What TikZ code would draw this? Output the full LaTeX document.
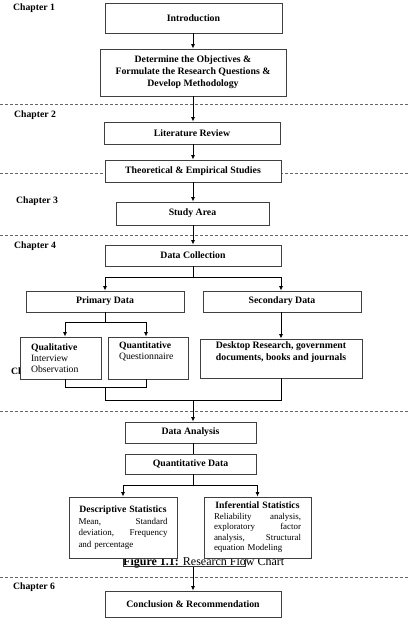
\documentclass[tikz,border=0pt]{standalone}
\usepackage{fontspec}
\setmainfont{Liberation Serif}
\usetikzlibrary{arrows.meta}
\begin{document}
\begin{tikzpicture}[x=1pt,y=-1pt,
  box/.style={draw=black!75,line width=0.9pt,fill=white,inner sep=0pt,align=center,
    font=\bfseries\fontsize{9.8}{12}\selectfont},
  tbox/.style={draw=black!75,line width=0.9pt,fill=white,inner sep=0pt},
  chap/.style={anchor=west,inner sep=0pt,font=\bfseries\fontsize{9.7}{12}\selectfont},
  conn/.style={draw=black,line width=0.8pt},
  arr/.style={conn,-{Latex[length=4.5pt,width=4pt]}},
  sep/.style={draw=black!60,line width=0.6pt,dash pattern=on 3pt off 2pt}]
\useasboundingbox (0,0) rectangle (408,634);

% chapter separators
\draw[sep] (0,104.5) -- (408,104.5);
\draw[sep] (0,173) -- (408,173);
\draw[sep] (0,235) -- (408,235);
\draw[sep] (0,411) -- (408,411);
\draw[sep] (0,577) -- (408,577);

% chapter labels
\node[chap] (c1) at (13,8.5) {Chapter 1};
\node[chap] (c2) at (14,115.5) {Chapter 2};
\node[chap] (c3) at (16,201) {Chapter 3};
\node[chap] (c4) at (14,246) {Chapter 4};
\node[chap] (c5) at (11,372) {Chapter 5};
\node[chap] (c6) at (13,587.5) {Chapter 6};

% caption (partly covered)
\node[anchor=base west,inner sep=0pt,font=\fontsize{12}{14}\selectfont] (cap) at (123,565.5)
  {\textbf{Figure 1.1:} Research Flow Chart};
\draw[black!80,line width=0.6pt] (123,556) -- (123,566.5) -- (245,566.5) -- (245,556);
\coordinate (capb) at (193,566.5);

% boxes
\node[box,minimum width=177pt,minimum height=30pt] (intro) at (193.5,18) {Introduction};
\node[box,minimum width=186pt,minimum height=47pt] (obj) at (193,72.5)
  {Determine the Objectives \&\\Formulate the Research Questions \&\\Develop Methodology};
\node[box,minimum width=176pt,minimum height=22pt] (lit) at (192,133) {Literature Review};
\node[box,minimum width=176pt,minimum height=22pt] (theo) at (193,171) {Theoretical \& Empirical Studies};
\node[box,minimum width=153pt,minimum height=23pt] (study) at (192.5,213.5) {Study Area};
\node[box,minimum width=176pt,minimum height=21pt] (dcol) at (193,255.5) {Data Collection};
\node[box,minimum width=158pt,minimum height=21pt] (prim) at (105,301.5) {Primary Data};
\node[box,minimum width=158pt,minimum height=21pt] (sec) at (282,301.5) {Secondary Data};
\node[tbox,minimum width=81pt,minimum height=42pt,text width=59pt,align=left,
  font=\fontsize{9.7}{11}\selectfont] (qual) at (60.5,358)
  {{\bfseries Qualitative}\\Interview\\Observation};
\node[tbox,minimum width=80pt,minimum height=42pt,text width=58pt,align=left,
  font=\fontsize{9.7}{11}\selectfont] (quant) at (148,358)
  {{\bfseries Quantitative}\\Questionnaire\\\strut};
\node[box,minimum width=162pt,minimum height=39pt] (desk) at (281,358.5)
  {Desktop Research, government\\documents, books and journals\\[3pt]};
\node[box,minimum width=131pt,minimum height=21pt] (ana) at (190.5,432.5) {Data Analysis};
\node[box,minimum width=131pt,minimum height=20pt] (qd) at (190.5,464) {Quantitative Data};
\node[tbox,minimum width=108pt,minimum height=61pt,text width=89pt,align=center,
  font=\fontsize{9}{11.5}\selectfont] (desc) at (123,527.5)
  {{\bfseries\fontsize{9.7}{11.5}\selectfont Descriptive Statistics}\\
   Mean,\hfill Standard\\deviation,\hfill Frequency\\and percentage\hfill\null};
\node[tbox,minimum width=107pt,minimum height=61pt,text width=87pt,align=center,
  font=\fontsize{8.9}{10.5}\selectfont] (inf) at (257.5,527.5)
  {{\bfseries\fontsize{9.7}{10.5}\selectfont Inferential Statistics}\\
   Reliability\hfill analysis,\\exploratory\hfill factor\\analysis,\hfill Structural\\equation Modeling\hfill\null};
\node[box,minimum width=176pt,minimum height=26pt] (concl) at (193,604) {Conclusion \& Recommendation};

% junction coordinates
\coordinate (mx) at (193,0);
\coordinate (j1) at (193,277);
\coordinate (pj) at (105,322);
\coordinate (qa) at (65,322);
\coordinate (qb) at (146,322);
\coordinate (ma) at (65,387);
\coordinate (mb) at (146,387);
\coordinate (mj) at (105,387);
\coordinate (m2) at (105,400);
\coordinate (m3) at (193,400);
\coordinate (m4) at (281,400);
\coordinate (qj) at (193,485);

% connectors
\draw[arr] (intro.south -| mx) -- (obj.north -| mx);
\draw[arr] (obj.south -| mx) -- (lit.north -| mx);
\draw[arr] (lit.south -| mx) -- (theo.north -| mx);
\draw[arr] (theo.south -| mx) -- (study.north -| mx);
\draw[arr] (study.south -| mx) -- (dcol.north -| mx);
\draw[conn] (dcol.south -| mx) -- (j1);
\draw[arr] (j1) -| (prim.north);
\draw[arr] (j1) -| (sec.north -| m4);
\draw[conn] (prim.south) -- (pj);
\draw[conn] (qa) -- (qb);
\draw[arr] (qa) -- (qa |- qual.north);
\draw[arr] (qb) -- (qb |- quant.north);
\draw[arr] (sec.south -| m4) -- (desk.north -| m4);
\draw[conn] (qual.south -| ma) -- (ma) -- (mb) -- (quant.south -| mb);
\draw[conn] (mj) -- (m2) -- (m4) -- (desk.south -| m4);
\draw[arr] (m3) -- (ana.north -| m3);
\draw[conn] (ana.south -| m3) -- (qd.north -| m3);
\draw[conn] (qd.south -| m3) -- (qj);
\draw[arr] (qj) -| (desc.north);
\draw[arr] (qj) -| (inf.north);
\draw[arr] (capb) -- (concl.north -| capb);
\end{tikzpicture}
\end{document}
